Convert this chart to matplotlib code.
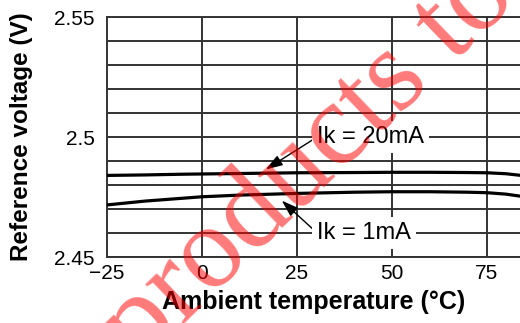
import matplotlib
matplotlib.use('Agg')
import matplotlib.pyplot as plt
import numpy as np

# values
temps = [-25, -15, -5, 0, 10, 25, 40, 50, 60, 70, 75, 80, 84]
v_20ma = [2.4840, 2.4842, 2.4845, 2.4846, 2.4848, 2.4851, 2.4852, 2.4853, 2.4853, 2.4852, 2.4851, 2.4847, 2.4840]
v_1ma = [2.4717, 2.4733, 2.4745, 2.4751, 2.4758, 2.4765, 2.4770, 2.4772, 2.4772, 2.4770, 2.4768, 2.4762, 2.4753]

x_ticks = [-25, 0, 25, 50, 75]
y_ticks = [2.45, 2.5, 2.55]
y_ticklabels = ['2.45', '2.5', '2.55']
y_grid = [2.46, 2.47, 2.48, 2.49, 2.51, 2.52, 2.53, 2.54]

plt.rcParams['font.family'] = ['Liberation Sans', 'DejaVu Sans']

fig = plt.figure(figsize=(5.2, 3.23), dpi=100)
ax = fig.add_axes([0.2058, 0.2043, 0.7942, 0.7430])

grid_col = '#333333'
for y in y_grid + y_ticks:
    ax.axhline(y, color=grid_col, lw=1.4, zorder=1)
for x in x_ticks[1:]:
    ax.axvline(x, color=grid_col, lw=1.4, zorder=1)

ax.plot(temps, v_20ma, color='black', lw=2.3, zorder=3)
ax.plot(temps, v_1ma, color='black', lw=2.3, zorder=3)

ax.set_xlim(-25, 83.7)
ax.set_ylim(2.45, 2.55)
ax.set_xticks(x_ticks)
ax.set_xticklabels([str(t).replace('-', '\u2212') for t in x_ticks])
ax.set_yticks(y_ticks)
ax.set_yticklabels(y_ticklabels)
ax.tick_params(length=0, labelsize=15)
ax.tick_params(axis='y', pad=9)
ax.tick_params(axis='x', pad=5)
for s in ['left', 'bottom', 'top']:
    ax.spines[s].set_color(grid_col)
    ax.spines[s].set_linewidth(1.4)
ax.spines['right'].set_visible(False)

ax.set_xlabel('Ambient temperature (\u00b0C)', fontsize=18, fontweight='bold', labelpad=5)
ax.set_ylabel('Reference voltage (V)', fontsize=17.5, fontweight='bold', labelpad=15)

box = dict(boxstyle='square,pad=0.2', fc='white', ec='none')
arrow = dict(arrowstyle='-|>,head_length=0.6,head_width=0.2', color='black', lw=1.0,
             relpos=(0, 0.5), shrinkA=0, shrinkB=0)
ax.annotate('Ik = 20mA', xy=(16.8, 2.4865), xytext=(30.3, 2.5), fontsize=17,
            ha='left', va='center', bbox=box, arrowprops=arrow, zorder=4)
ax.annotate('Ik = 1mA', xy=(21.0, 2.4735), xytext=(30.3, 2.46), fontsize=17,
            ha='left', va='center', bbox=box, arrowprops=arrow, zorder=4)

# watermark
fig.text(140 / 520, 1 - 366 / 323, 'products to', fontsize=85, family='Liberation Serif',
         color='red', alpha=0.52, rotation=44, rotation_mode='anchor',
         ha='left', va='baseline', zorder=10)

fig.savefig('out.png', dpi=100)
